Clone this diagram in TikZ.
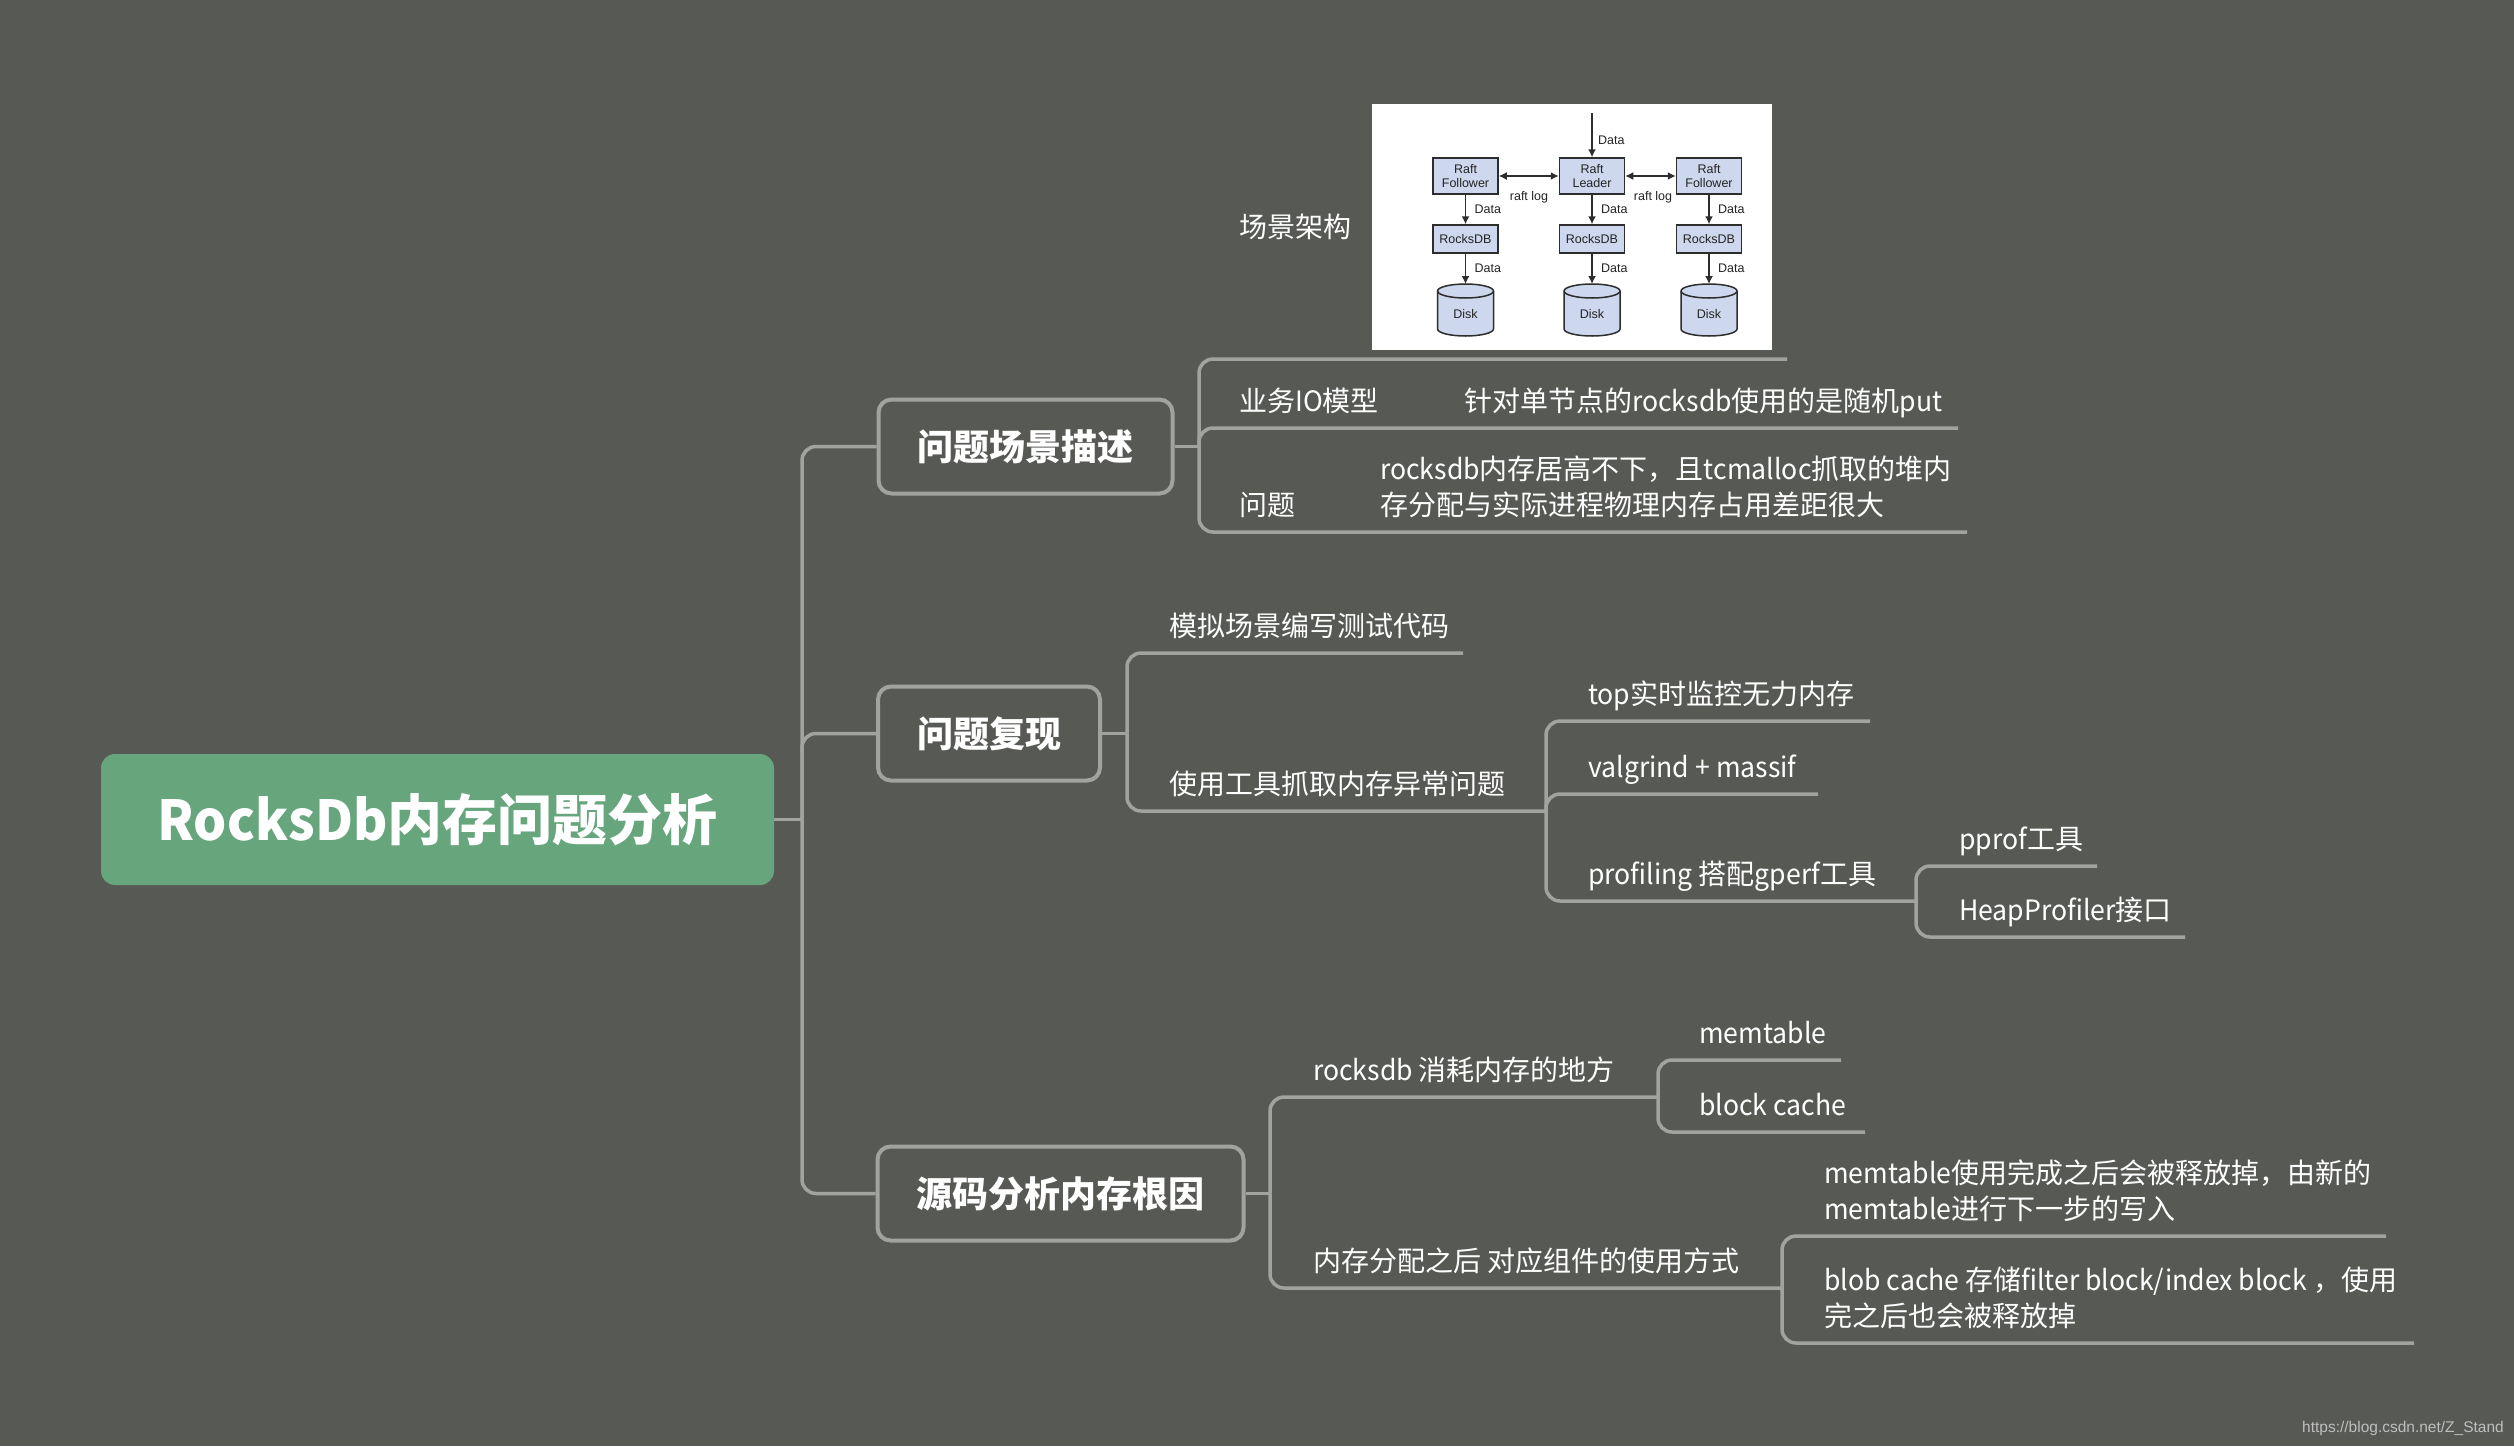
\documentclass[tikz,border=0pt]{standalone}
\usepackage{fontspec}
\newfontfamily\cjk{Noto Sans CJK SC}
\newfontfamily\latn{Noto Sans CJK SC}[FakeStretch=0.95]
\newcommand\latw[1]{{\latn #1}}
\newfontfamily\raftfont{Liberation Sans}
\usetikzlibrary{arrows.meta}
\definecolor{bgc}{RGB}{87,89,85}
\definecolor{lnc}{RGB}{161,163,159}
\definecolor{grn}{RGB}{103,165,125}
\definecolor{rfill}{RGB}{205,215,238}
\definecolor{rline}{RGB}{45,45,45}
\definecolor{rtext}{RGB}{35,35,35}
\definecolor{wmc}{RGB}{190,190,190}
\tikzset{
  conn/.style={draw=lnc, line width=3.5pt, rounded corners=14pt},
  lvone/.style={draw=lnc, line width=4pt, rounded corners=13pt, fill=bgc, text=white,
    font=\cjk\bfseries\fontsize{36}{40}\selectfont, minimum height=94pt, inner xsep=39pt, inner ysep=0pt},
  lvtwo/.style={anchor=base west, inner sep=0pt, text=white, font=\cjk\fontsize{28}{34}\selectfont},
  rbox/.style={draw=rline, fill=rfill, line width=1.5pt, inner sep=0pt, minimum width=65pt,
    text=rtext, font=\raftfont\fontsize{12.5}{14}\selectfont, align=center},
  rlab/.style={inner sep=0pt, text=rtext, font=\raftfont\fontsize{12.5}{14}\selectfont},
  rarr/.style={draw=rline, line width=1.5pt, -{Latex[length=8pt,width=8pt]}},
  rdarr/.style={draw=rline, line width=1.5pt, {Latex[length=8pt,width=8pt]}-{Latex[length=8pt,width=8pt]}},
  diskline/.style={draw=rline, line width=1.5pt},
}
\begin{document}
\begin{tikzpicture}[x=1pt,y=-1pt]
\fill[bgc] (0,0) rectangle (2514,1446);
\useasboundingbox (0,0) rectangle (2514,1446);

% root
\node[fill=grn, rounded corners=14pt, minimum width=673pt, minimum height=131pt, inner sep=0pt,
  text=white, font=\cjk\bfseries\fontsize{55}{60}\selectfont] (root) at (437.5,819.5) {\latw{RocksDb}内存问题分析};

% level one
\node[lvone] (b1) at (1025.5,446.5) {问题场景描述};
\node[lvone] (b2) at (989,733.5) {问题复现};
\node[lvone] (b3) at (1060.5,1193.5) {源码分析内存根因};

\coordinate (ms) at (802,819.5);
\draw[conn] (root.east) -- (ms);
\draw[conn] (ms) |- (b1.west);
\draw[conn] (ms) |- (b2.west);
\draw[conn] (ms) |- (b3.west);

% branch 1
\coordinate (s1) at (1199,446.5);
\coordinate (u1a) at (1787,359);
\coordinate (u1b) at (1958,428);
\coordinate (u1c) at (1967,532);
\draw[conn] (b1.east) -- (s1);
\draw[conn] (s1) |- (u1a);
\draw[conn] (s1) |- (u1b);
\draw[conn] (s1) |- (u1c);
\node[lvtwo] (t1a) at (1239,237) {场景架构};
\node[lvtwo] (t1b) at (1239,411) {业务\latw{IO}模型};
\node[lvtwo] (t1bb) at (1464,411) {针对单节点的\latw{rocksdb}使用的是随机\latw{put}};
\node[lvtwo] (t1c) at (1239,515) {问题};
\node[lvtwo] (t1ca) at (1380,479) {\latw{rocksdb}内存居高不下，且\latw{tcmalloc}抓取的堆内};
\node[lvtwo] (t1cb) at (1380,515) {存分配与实际进程物理内存占用差距很大};

% raft picture
\node[fill=white, minimum width=400pt, minimum height=246pt, inner sep=0pt] (img) at (1572,227) {};
\node[rbox, minimum height=36pt] (rf1) at (1465.5,176) {Raft\\Follower};
\node[rbox, minimum height=36pt] (rl) at (1592,176) {Raft\\Leader};
\node[rbox, minimum height=36pt] (rf2) at (1709,176) {Raft\\Follower};
\node[rbox, minimum height=28pt] (rd1) at (1465.5,239) {RocksDB};
\node[rbox, minimum height=28pt] (rd2) at (1592,239) {RocksDB};
\node[rbox, minimum height=28pt] (rd3) at (1709,239) {RocksDB};
\coordinate (din) at (1592,113);
\draw[rarr] (din) -- (rl.north);
\node[rlab, anchor=west] (dl0) at (1598,140) {Data};
\draw[rdarr] (rf1.east) -- (rl.west);
\draw[rdarr] (rl.east) -- (rf2.west);
\node[rlab] (rlog1) at (1529,197) {raft log};
\node[rlab] (rlog2) at (1653,197) {raft log};
\foreach \cx/\rf/\rd/\dk in {1465.5/rf1/rd1/dk1, 1592/rl/rd2/dk2, 1709/rf2/rd3/dk3}{
  \draw[diskline, fill=rfill] ({\cx-28},291) -- ({\cx-28},329)
     arc[start angle=180, end angle=360, x radius=28pt, y radius=7pt]
     -- ({\cx+28},291)
     arc[start angle=0, end angle=180, x radius=28pt, y radius=7pt] -- cycle;
  \draw[diskline] ({\cx-28},291) arc[start angle=180, end angle=360, x radius=28pt, y radius=7pt];
  \node[rlab] (\dk) at (\cx,314) {Disk};
  \coordinate (\dk top) at (\cx,284);
  \draw[rarr] (\rf.south) -- (\rd.north);
  \draw[rarr] (\rd.south) -- (\dk top);
  \node[rlab, anchor=west] at ({\cx+9},209) {Data};
  \node[rlab, anchor=west] at ({\cx+9},268) {Data};
}

% branch 2
\coordinate (s2) at (1127,733.5);
\coordinate (u2a) at (1463,653);
\coordinate (s3) at (1546,811);
\draw[conn] (b2.east) -- (s2);
\draw[conn] (s2) |- (u2a);
\draw[conn] (s2) |- (s3);
\node[lvtwo] (t2a) at (1169,636) {模拟场景编写测试代码};
\node[lvtwo] (t2b) at (1169,794) {使用工具抓取内存异常问题};

\coordinate (u3a) at (1870,721);
\coordinate (u3b) at (1818,794);
\coordinate (s4) at (1916,901);
\draw[conn] (s3) |- (u3a);
\draw[conn] (s3) |- (u3b);
\draw[conn] (s3) |- (s4);
\node[lvtwo] (t3a) at (1588,704) {\latw{top}实时监控无力内存};
\node[lvtwo] (t3b) at (1588,777) {\latw{valgrind + massif}};
\node[lvtwo] (t3c) at (1588,884) {\latw{profiling }搭配\latw{gperf}工具};

\coordinate (u4a) at (2097,866);
\coordinate (u4b) at (2185,937);
\draw[conn] (s4) |- (u4a);
\draw[conn] (s4) |- (u4b);
\node[lvtwo] (t4a) at (1959,849) {\latw{pprof}工具};
\node[lvtwo] (t4b) at (1959,920) {\latw{HeapProfiler}接口};

% branch 3
\coordinate (s5) at (1270,1193.5);
\coordinate (s6) at (1658,1097);
\coordinate (s7) at (1782,1288);
\draw[conn] (b3.east) -- (s5);
\draw[conn] (s5) |- (s6);
\draw[conn] (s5) |- (s7);
\node[lvtwo] (t5a) at (1313,1080) {\latw{rocksdb }消耗内存的地方};
\node[lvtwo] (t5b) at (1313,1271) {内存分配之后 对应组件的使用方式};

\coordinate (u6a) at (1841,1060);
\coordinate (u6b) at (1865,1132);
\draw[conn] (s6) |- (u6a);
\draw[conn] (s6) |- (u6b);
\node[lvtwo] (t6a) at (1699,1043) {\latw{memtable}};
\node[lvtwo] (t6b) at (1699,1115) {\latw{block cache}};

\coordinate (u7a) at (2386,1236);
\coordinate (u7b) at (2414,1343);
\draw[conn] (s7) |- (u7a);
\draw[conn] (s7) |- (u7b);
\node[lvtwo] (t7a) at (1824,1183) {\latw{memtable}使用完成之后会被释放掉，由新的};
\node[lvtwo] (t7aa) at (1824,1219) {\latw{memtable}进行下一步的写入};
\node[lvtwo] (t7b) at (1824,1290) {\latw{blob cache }存储\latw{filter block/index block }，使用};
\node[lvtwo] (t7bb) at (1824,1326) {完之后也会被释放掉};

% watermark
\node[anchor=base east, inner sep=0pt, text=wmc, font=\raftfont\fontsize{15.5}{17}\selectfont] (wm) at (2504,1432) {https://blog.csdn.net/Z\_Stand};
\end{tikzpicture}
\end{document}
